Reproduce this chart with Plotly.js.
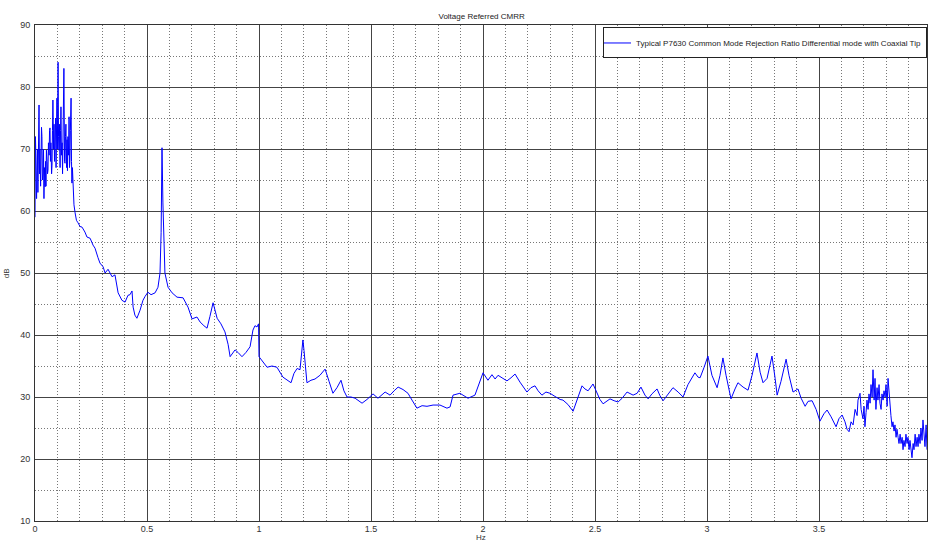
<!DOCTYPE html>
<html><head><meta charset="utf-8">
<script src="https://cdn.plot.ly/plotly-3.0.1.min.js"></script>
<style>html,body{margin:0;padding:0;background:#fff}#chart{width:928px;height:542px}</style>
</head><body><div id="chart"></div>
<script>
// Frequency in units of 1e9 Hz
const freq = [
0.000,0.002,0.004,0.007,0.009,0.011,0.013,0.016,0.018,0.020,0.022,0.025,0.027,0.029,0.031,0.033,0.036,0.038,0.040,0.042,
0.045,0.047,0.049,0.051,0.054,0.056,0.058,0.060,0.063,0.065,0.067,0.069,0.071,0.074,0.076,0.078,0.080,0.083,0.085,0.087,
0.089,0.092,0.094,0.096,0.098,0.100,0.103,0.105,0.107,0.109,0.112,0.114,0.116,0.118,0.121,0.123,0.125,0.127,0.129,0.132,
0.134,0.136,0.138,0.141,0.143,0.145,0.147,0.150,0.152,0.154,0.156,0.158,0.161,0.163,0.165,0.167,0.170,
0.174,0.179,0.185,0.192,0.201,0.210,0.223,0.232,0.246,0.259,0.268,0.281,0.290,0.304,0.313,0.326,0.344,0.357,0.371,0.388,
0.402,0.415,0.424,0.433,0.438,0.446,0.455,0.469,0.482,0.491,0.504,0.518,0.536,0.549,0.558,0.563,0.567,0.571,0.576,0.580,
0.594,0.612,0.634,0.661,0.683,0.701,0.723,0.737,0.754,0.768,0.781,0.795,0.813,0.830,0.848,0.862,0.871,0.893,0.906,0.924,
0.942,0.960,0.973,0.982,0.991,0.998,1.000,1.018,1.036,1.058,1.080,1.107,1.143,1.156,1.170,1.183,1.192,1.196,1.201,1.214,
1.232,1.250,1.272,1.295,1.313,1.330,1.348,1.366,1.379,1.393,1.411,1.429,1.460,1.482,1.509,1.531,1.563,1.585,1.603,1.621,
1.643,1.665,1.683,1.705,1.728,1.750,1.777,1.808,1.839,1.853,1.866,1.897,1.915,1.933,1.964,1.982,2.000,2.022,2.040,2.054,
2.067,2.089,2.107,2.125,2.143,2.165,2.196,2.214,2.232,2.246,2.263,2.281,2.299,2.321,2.344,2.357,2.379,2.402,2.420,2.442,
2.455,2.469,2.491,2.504,2.522,2.536,2.549,2.567,2.585,2.603,2.621,2.643,2.670,2.688,2.705,2.723,2.737,2.754,2.777,2.790,
2.804,2.826,2.848,2.871,2.893,2.915,2.946,2.960,2.969,2.987,3.004,3.022,3.045,3.058,3.071,3.085,3.107,3.125,3.138,3.161,
3.183,3.201,3.223,3.237,3.250,3.268,3.290,3.304,3.313,3.330,3.353,3.366,3.384,3.406,3.420,3.438,3.451,3.469,3.487,3.504,
3.522,3.536,3.554,3.576,3.589,3.603,3.616,3.625,3.634,3.643,3.652,3.661,3.670,3.674,3.683,3.688,3.696,3.701,3.705,3.710,
3.714,3.719,3.723,3.728,3.732,3.737,3.741,3.746,3.750,3.754,3.759,3.763,3.768,3.772,3.777,3.781,3.786,3.790,3.795,3.799,
3.804,3.808,3.813,3.817,3.821,3.826,3.830,3.835,3.839,3.844,3.848,3.853,3.857,3.862,3.866,3.871,3.875,3.879,3.884,3.888,
3.893,3.897,3.902,3.906,3.911,3.915,3.920,3.924,3.929,3.933,3.938,3.942,3.946,3.951,3.955,3.960,3.964,3.969,3.973,3.978,3.982
];
const cmrr = [
59,72,68.7,62,65,70,63,74,77.1,66,70,64,68.2,73.5,72,65,66.1,70,62,67,
63.9,68,64,69.8,68,66,66.6,71,69,73,73.4,68,71,66,67.4,73,77.9,70,74,68,
70.3,75,67,72,78.2,70,84,72,69.8,74,67,73,76.8,69,71,66,75.8,70,83,68,
67.7,72,74,67,71.5,66.5,72,69,75.2,67,68.2,73,78.2,68,64.5,67,63,
61,59.7,58.5,58.1,57.5,57.4,56.6,55.8,55.6,54.5,54,52.5,51.6,51,50,50.6,49.4,49.7,46.8,45.6,
45.3,46.4,46.5,47.1,44.5,43.2,42.7,44,45.6,46.2,46.9,46.5,46.8,47.7,50,56.5,70.2,61.3,54,50,
47.7,46.8,46.1,46,44.5,42.6,42.9,42.1,41.5,41.1,43,45.2,42.7,41.8,40.5,38.5,36.5,37.6,37.2,36.5,
37.2,38.1,40.8,41.5,41.3,41.8,36.5,35.6,34.8,35,34.8,33.2,32.3,33.8,34.6,34.4,37.5,39.2,37.5,32.3,
32.7,32.9,33.5,34.5,32.5,30.6,31.5,32.7,31,30,30,29.8,29,29.6,30.5,29.8,30.8,30.3,31,31.6,
31.2,30.6,29.5,28.2,28.6,28.5,28.7,28.7,28.2,28.4,30.3,30.6,30.2,29.8,30.3,32,33.9,32.7,33.6,32.9,
33.5,33,32.6,33.1,33.7,32.4,30.8,31.5,31.8,31,30.3,30.8,30.6,30.1,29.6,29.5,28.8,27.7,29.5,31.8,
31.3,31.0,32.1,31,29.6,28.9,29.3,29.7,29.4,29.2,29.8,30.8,30.3,30.6,31.6,30.3,29.7,30.5,31.3,30.2,
29.4,30.5,31.5,30.8,30.0,32.0,33.9,33.2,33.1,34.8,36.6,33.5,31.5,33.5,36.3,33.5,29.7,31.3,32.3,31.6,
31.1,33.5,37.1,34,32.3,33,36.6,33,30.3,32.5,36.1,33.5,30.8,31.3,29.8,28.5,29.3,29.4,28,26.1,
27.3,27.9,26.8,25.2,26.5,27.1,26,24.8,24.4,26,25.5,28,27,29.5,30.6,28,26.5,28.5,25.2,27.5,
29.5,28,30.5,29,32,30,34.4,29.5,33,28,31.5,29.5,32,29,28,30.5,29.5,31,30,32,
28.5,33,30,28,27,25.2,26,24.5,25.5,23.5,24.8,23.5,22.5,24,22.5,23.5,21.5,23,22,24,
22.5,23.5,21.5,23,21.5,20.2,22.5,21.5,24,22,23.5,22,24,22.5,25,23,26.3,24,22,25.5,21.5
];
const xTicks = [0,0.5,1,1.5,2,2.5,3,3.5];
const xTickText = ['0','0.5','1','1.5','2','2.5','3','3.5'];
const yTicks = [10,20,30,40,50,60,70,80,90];

const seriesName = 'Typical P7630 Common Mode Rejection Ratio Differential mode with Coaxial Tip';
const FONT = 'Liberation Sans, Arial, sans-serif';

const trace = {
  x: freq, y: cmrr, type: 'scatter', mode: 'lines', name: seriesName,
  line: {color: 'rgb(0,0,255)', width: 1}
};

const layout = {
  width: 928, height: 542,
  margin: {l: 35, r: 1, t: 25, b: 21, pad: 0},
  paper_bgcolor: '#fff', plot_bgcolor: '#fff',
  font: {family: FONT, size: 9, color: '#333'},
  title: {text: 'Voltage Referred CMRR', font: {family: FONT, size: 8, color: '#222'},
          x: 0.519, xanchor: 'center', y: 0.970, yanchor: 'middle', yref: 'container'},
  showlegend: true,
  legend: {x: 1, xanchor: 'right', y: 0.995, yanchor: 'top', bgcolor: '#fff',
           bordercolor: '#222', borderwidth: 1, font: {family: FONT, size: 8, color: '#222'},
           itemwidth: 30, tracegroupgap: 0, indentation: -8},
  xaxis: {
    range: [0, 3.982], tickvals: xTicks, ticktext: xTickText,
    showgrid: true, gridcolor: '#444', gridwidth: 1,
    showline: true, linecolor: '#333', linewidth: 1, mirror: true,
    zeroline: false, ticks: '', automargin: false, ticklabelstandoff: -1,
    tickfont: {family: FONT, size: 9, color: '#333'},
    minor: {dtick: 0.1, showgrid: true, gridcolor: '#777', griddash: '1px,2px', gridwidth: 1}
  },
  yaxis: {
    range: [10, 90], tickvals: yTicks,
    showgrid: true, gridcolor: '#444', gridwidth: 1,
    showline: true, linecolor: '#333', linewidth: 1, mirror: true,
    zeroline: false, ticks: '', automargin: false, ticklabelstandoff: 2,
    tickfont: {family: FONT, size: 9, color: '#333'},
    minor: {dtick: 5, showgrid: true, gridcolor: '#777', griddash: '1px,2px', gridwidth: 1}
  },
  annotations: [
    {text: 'Hz', xref: 'paper', yref: 'paper', x: 0.5, y: -0.0438, yanchor: 'bottom', showarrow: false,
     borderpad: 0, font: {family: FONT, size: 8, color: '#333'}},
    {text: 'dB', xref: 'paper', yref: 'paper', x: -0.025, xanchor: 'right', y: 0.5, textangle: -90, showarrow: false,
     font: {family: FONT, size: 8, color: '#333'}},
    {text: 'x 10<sup>9</sup>', xref: 'paper', yref: 'paper', x: 0.983, xanchor: 'left', y: -0.036, yanchor: 'top', showarrow: false,
     font: {family: FONT, size: 8, color: '#333'}}
  ]
};

Plotly.newPlot('chart', [trace], layout, {staticPlot: true, displayModeBar: false});
</script>
</body></html>
